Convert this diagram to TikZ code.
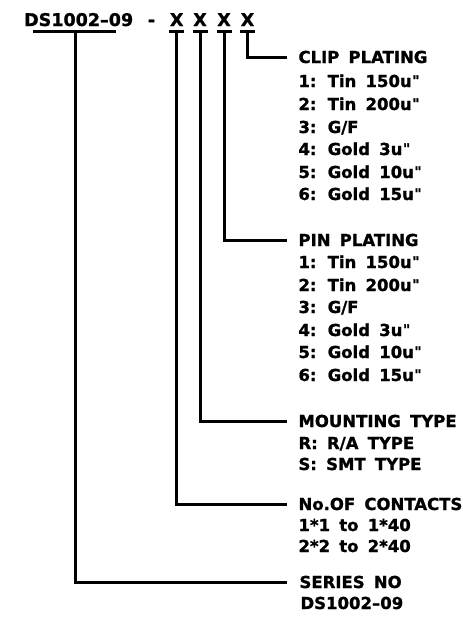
\documentclass[tikz,border=0pt]{standalone}
\usepackage{fontspec}
\newfontfamily\cadfont{DejaVu Sans}[WordSpace=1.6,BoldFeatures={FakeBold=1.2}]
\newcommand{\qq}{\kern0.5pt\raisebox{1.5pt}{\fontsize{14}{14}\selectfont"}}
\begin{document}
\begin{tikzpicture}[x=1pt,y=-1pt,line width=3pt,
  lbl/.style={anchor=base west,inner sep=0pt,font=\cadfont\bfseries\fontsize{16.5}{18}\selectfont},
  ttl/.style={anchor=base,inner sep=0pt,font=\cadfont\bfseries\fontsize{17.5}{19}\selectfont}]
\useasboundingbox (0,0) rectangle (463,621);
% title
\node[ttl,anchor=base west] (pn) at (22.7,26) {DS1002\textendash09};
\node[ttl] (dash) at (151.5,26) {-};
\node[ttl] (x1) at (176.7,26) {X};
\node[ttl] (x2) at (200,26) {X};
\node[ttl] (x3) at (224,26) {X};
\node[ttl] (x4) at (247.5,26) {X};
% underlines
\coordinate (ua) at (33,31); \coordinate (ub) at (116,31);
\draw (ua) -- (ub);
\foreach \n/\xx in {1/176.7,2/200,3/224,4/247.5}{
  \coordinate (b\n l) at (\xx-7.5,31);
  \coordinate (b\n r) at (\xx+7.5,31);
  \coordinate (s\n) at (\xx,31);
  \draw (b\n l) -- (b\n r);
}
\coordinate (s0) at (75,31);
% connector ends
\coordinate (eC) at (287,57);
\coordinate (eP) at (287,240);
\coordinate (eM) at (287,421);
\coordinate (eN) at (287,504);
\coordinate (eS) at (287,582);
\draw (s4) |- (eC);
\draw (s3) |- (eP);
\draw (s2) |- (eM);
\draw (s1) |- (eN);
\draw (s0) |- (eS);
% clip plating
\node[lbl] (c0) at (297,63) {CLIP PLATING};
\node[lbl] (c1) at (297,87) {1: Tin 150u\qq};
\node[lbl] (c2) at (297,110) {2: Tin 200u\qq};
\node[lbl] (c3) at (297,133) {3: G/F};
\node[lbl] (c4) at (297,155) {4: Gold 3u\qq};
\node[lbl] (c5) at (297,178) {5: Gold 10u\qq};
\node[lbl] (c6) at (297,200) {6: Gold 15u\qq};
% pin plating
\node[lbl] (p0) at (297,246) {PIN PLATING};
\node[lbl] (p1) at (297,268) {1: Tin 150u\qq};
\node[lbl] (p2) at (297,291) {2: Tin 200u\qq};
\node[lbl] (p3) at (297,313) {3: G/F};
\node[lbl] (p4) at (297,336) {4: Gold 3u\qq};
\node[lbl] (p5) at (297,358) {5: Gold 10u\qq};
\node[lbl] (p6) at (297,381) {6: Gold 15u\qq};
% mounting
\node[lbl] (m0) at (297,427) {MOUNTING TYPE};
\node[lbl] (m1) at (297,449) {R: R/A TYPE};
\node[lbl] (m2) at (297,470) {S: SMT TYPE};
% contacts
\node[lbl] (n0) at (297,510) {No.OF CONTACTS};
\node[lbl] (n1) at (297,531) {1*1 to 1*40};
\node[lbl] (n2) at (297,552) {2*2 to 2*40};
% series
\node[lbl] (r0) at (298,588) {SERIES NO};
\node[lbl] (r1) at (299,609) {DS1002\textendash09};
\end{tikzpicture}
\end{document}
